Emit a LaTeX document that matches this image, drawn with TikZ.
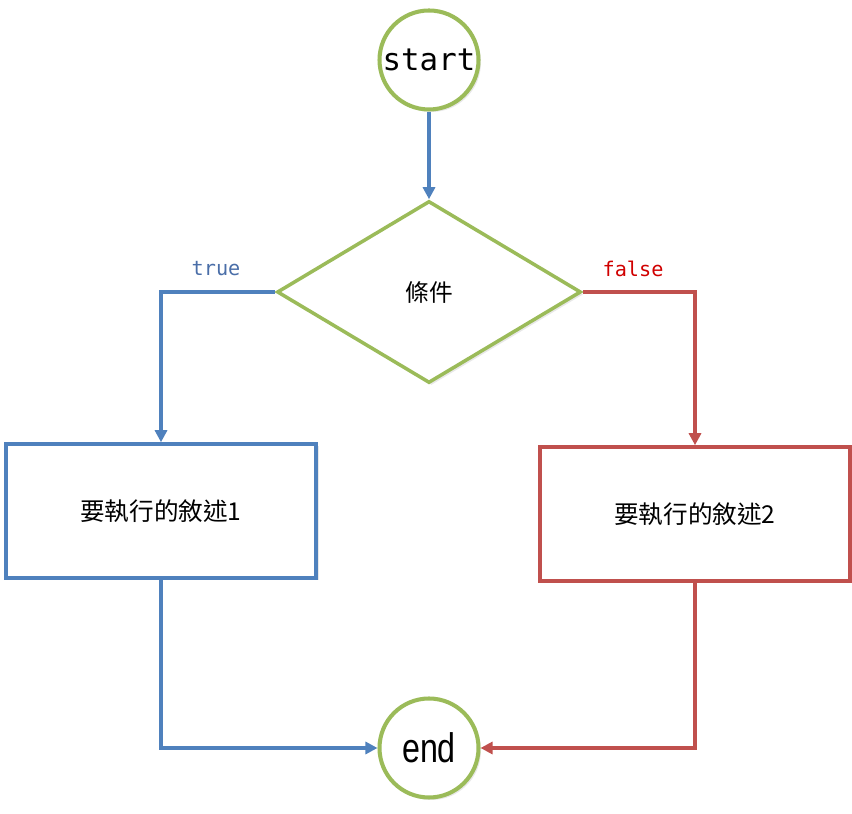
\documentclass[tikz,border=0pt]{standalone}
\usepackage{fontspec}
\setmainfont{Liberation Sans}
\newfontfamily\cjkfont{Noto Sans CJK TC}
\newfontfamily\codefont{DejaVu Sans Mono}
\newfontfamily\narrowfont[FakeStretch=0.78]{Liberation Sans}
\usetikzlibrary{shapes.geometric,arrows.meta,shadows}
\definecolor{flgreen}{HTML}{9BBB59}
\definecolor{flblue}{HTML}{4F81BD}
\definecolor{flred}{HTML}{C0504D}
\definecolor{txtblue}{HTML}{4A6EA8}
\definecolor{txtred}{HTML}{D00000}

\begin{document}
\begin{tikzpicture}[
  shade/.style={drop shadow={opacity=0.18,shadow xshift=0.05cm,shadow yshift=-0.05cm}},
  term/.style={circle, draw=flgreen, line width=2.3pt, fill=white, minimum size=1.98cm, inner sep=0pt, shade},
  cond/.style={diamond, draw=flgreen, line width=2pt, fill=white, minimum width=6.08cm, minimum height=3.64cm, inner sep=0pt, shade, font=\cjkfont\fontsize{13.5}{16}\selectfont},
  stmt/.style={rectangle, line width=2pt, fill=white, minimum width=6.2cm, minimum height=2.68cm, inner sep=0pt, shade, font=\cjkfont\fontsize{14}{16}\selectfont},
  tline/.style={-{Triangle[length=0.24cm,width=0.24cm]}, line width=2pt, draw=flblue},
  fline/.style={-{Triangle[length=0.24cm,width=0.24cm]}, line width=2pt, draw=flred},
  lbl/.style={font=\codefont\fontsize{11.5}{14}\selectfont}
]
\useasboundingbox (0,0) rectangle (17.04,16.26);
% nodes
\node[term, font=\codefont\fontsize{17.5}{20}\selectfont] (start) at (8.58,15.06) {start};
\node[cond] (cond) at (8.58,10.42) {\raisebox{-0.05cm}{條件}};
\node[stmt, draw=flblue] (act1) at (3.22,6.04) {要執行的敘述1};
\node[stmt, draw=flred] (act2) at (13.90,5.98) {要執行的敘述2};
\node[term, font=\narrowfont\fontsize{23.5}{26}\selectfont] (end) at (8.58,1.30) {end};
\node[lbl, text=txtblue] (ltrue) at (4.32,10.88) {true};
\node[lbl, text=txtred] (lfalse) at (12.66,10.88) {false};
% connectors
\draw[tline] (start) -- (cond);
\draw[tline] (cond.west) -| (act1.north);
\draw[fline] (cond.east) -| (act2.north);
\draw[tline] (act1.south) |- (end.west);
\draw[fline] (act2.south) |- (end.east);
\end{tikzpicture}
\end{document}
